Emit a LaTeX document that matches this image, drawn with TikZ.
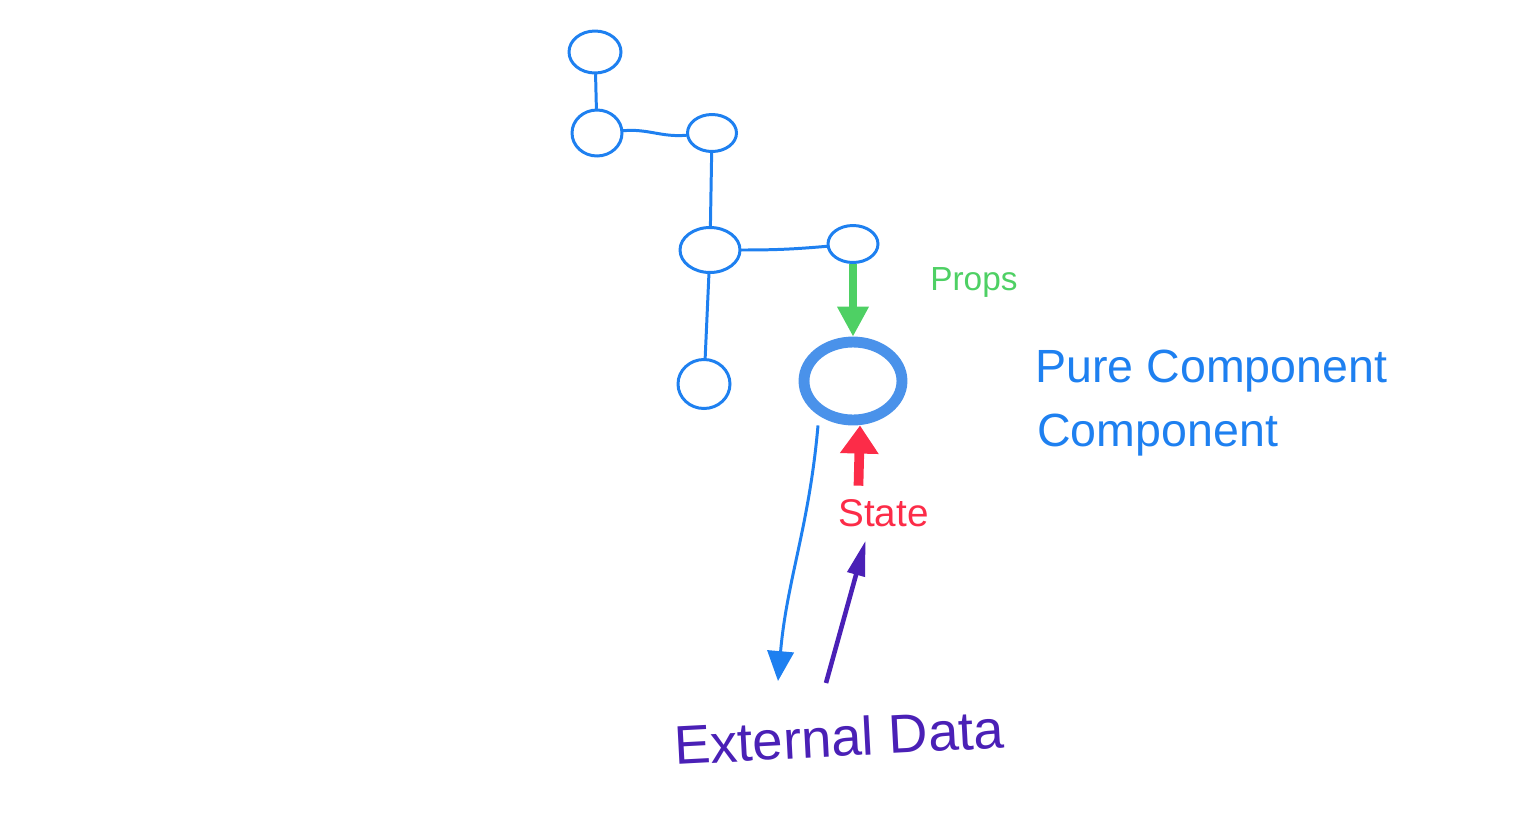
\documentclass[tikz,border=0pt]{standalone}
\usepackage{fontspec}
\setmainfont{Liberation Sans}
\usepackage{xcolor}
\usepackage{tikz}
\usetikzlibrary{positioning}
\usetikzlibrary{shapes.geometric}
\usetikzlibrary{arrows.meta}

\definecolor{penblue}{RGB}{30,128,240}
\definecolor{ringblue}{RGB}{74,146,234}
\definecolor{pengreen}{RGB}{78,208,100}
\definecolor{penred}{RGB}{252,44,72}
\definecolor{penpurple}{RGB}{74,32,182}

\tikzset{
    bubble/.style={ellipse,draw=penblue,line width=1.7pt,inner sep=0pt},
    link/.style={draw=penblue,line width=1.7pt,line cap=round},
    note/.style={inner sep=0pt,anchor=base west}
}

\begin{document}
\begin{tikzpicture}[x=0.02cm,y=-0.02cm]
    \useasboundingbox (0,0) rectangle (1536,812);

    \node[bubble,minimum width=1.04cm,minimum height=0.84cm] (root)   at (595,52)  {};
    \node[bubble,minimum width=1.00cm,minimum height=0.92cm] (left)   at (597,133) {};
    \node[bubble,minimum width=0.98cm,minimum height=0.74cm] (mid)    at (712,133) {};
    \node[bubble,minimum width=1.20cm,minimum height=0.90cm] (hub)    at (710,250) {};
    \node[bubble,minimum width=1.00cm,minimum height=0.74cm] (parent) at (853,244) {};
    \node[bubble,minimum width=1.04cm,minimum height=0.98cm] (leaf)   at (704,384) {};

    \node[ellipse,draw=ringblue,line width=6.2pt,inner sep=0pt,
          minimum width=1.96cm,minimum height=1.56cm] (pure) at (853,381) {};

    \node[note,text=pengreen,font=\fontsize{19}{22}\selectfont] (props) at (930,290) {Props};
    \node[note,text=penblue,font=\fontsize{26.5}{30}\selectfont] (purelbl) at (1035,382) {Pure Component};
    \node[note,text=penblue,font=\fontsize{26.5}{30}\selectfont] (complbl) at (1037,446) {Component};
    \node[note,text=penred,font=\fontsize{22}{26}\selectfont] (state) at (838,526) {State};
    \node[note,text=penpurple,font=\fontsize{31}{36}\selectfont,rotate=3] (ext) at (675,765) {External Data};

    \coordinate (dataOut) at (778,681);
    \coordinate (dataIn)  at (826,683);

    % tree links
    \draw[link] (root) -- (left);
    \draw[link] (left) to[out=5,in=185] (mid);
    \draw[link] (mid) -- (hub);
    \draw[link] (hub) to[out=0,in=185] (parent);
    \draw[link] (hub) -- (leaf);

    % data flow
    \draw[pengreen,line width=4pt,-{Triangle[length=17pt,width=17pt]}] (parent) -- (pure);
    \draw[penred,line width=5.5pt,-{Triangle[length=16pt,width=21pt]}] ([xshift=-0.5cm,yshift=0.26cm]state.north) -- ([xshift=0.14cm]pure.south);
    \draw[penpurple,line width=2.6pt,-{Triangle[length=20pt,width=10pt]}] (dataIn) -- ([xshift=-0.36cm,yshift=-0.28cm]state.south);
    \draw[penblue,line width=1.7pt,-{Triangle[length=17pt,width=15pt]}] ([xshift=-0.7cm]pure.south) to[out=-95,in=85] (dataOut);
\end{tikzpicture}
\end{document}
